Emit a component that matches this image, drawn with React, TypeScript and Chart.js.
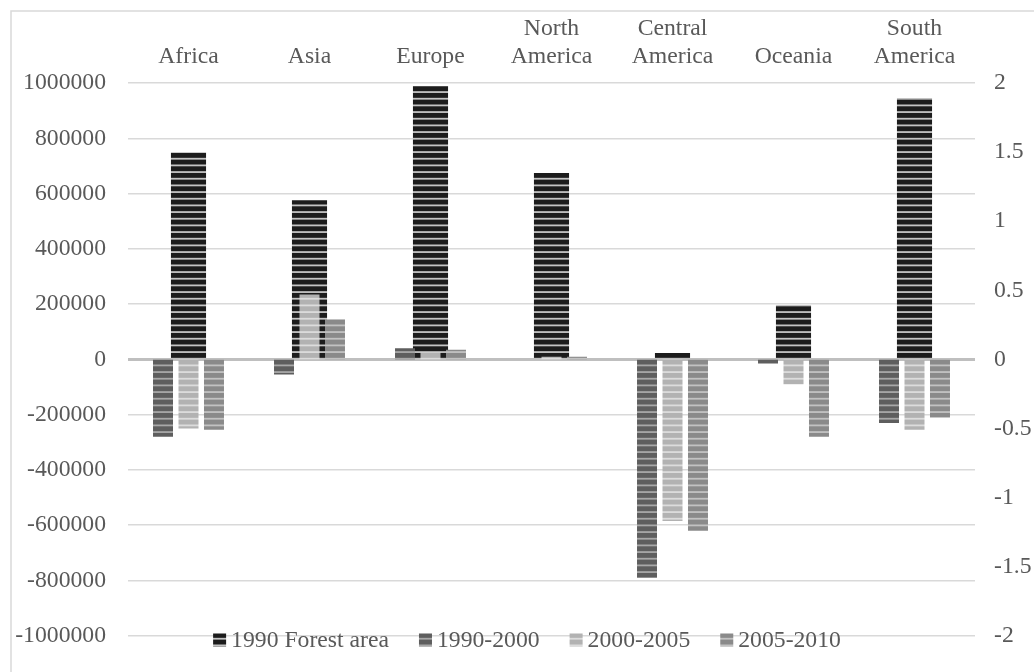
import React, { useEffect, useRef } from "react";
import { Chart, registerables } from "chart.js";

Chart.register(...registerables);

const categories: (string | string[])[] = [
  "Africa",
  "Asia",
  "Europe",
  ["North", "America"],
  ["Central", "America"],
  "Oceania",
  ["South", "America"],
];

const forestArea1990 = [749000, 576000, 989000, 674000, 23000, 197000, 946000];
const change1990to2000 = [-0.56, -0.11, 0.08, 0.0, -1.58, -0.03, -0.46];
const change2000to2005 = [-0.5, 0.47, 0.05, 0.02, -1.17, -0.18, -0.51];
const change2005to2010 = [-0.51, 0.29, 0.07, 0.02, -1.24, -0.56, -0.42];

const seriesNames = ["1990 Forest area", "1990-2000", "2000-2005", "2005-2010"];

const FONT = '"Liberation Serif", "Times New Roman", serif';
const FONT_SIZE = 23.7;
const TEXT_COLOR = "#595959";

function makeStripe(base: string, stripe: string): CanvasPattern | string {
  const c = document.createElement("canvas");
  c.width = 4;
  c.height = 20;
  const g = c.getContext("2d");
  if (!g) return base;
  g.fillStyle = base;
  g.fillRect(0, 0, 4, 20);
  g.fillStyle = stripe;
  for (let k = 0; k < 3; k++) {
    g.fillRect(0, k * (20 / 3) + 4.5, 4, 1.8);
  }
  const p = g.createPattern(c, "repeat");
  return p || base;
}

export default function App() {
  const ref = useRef<HTMLCanvasElement | null>(null);

  useEffect(() => {
    const canvas = ref.current;
    if (!canvas) return;

    const fills = [
      makeStripe("#1c1c1c", "#c4c4c4"),
      makeStripe("#5e5e5e", "#a8a8a8"),
      makeStripe("#b2b2b2", "#dcdcdc"),
      makeStripe("#8a8a8a", "#c2c2c2"),
    ];

    const framePlugin = {
      id: "frame",
      beforeDraw(chart: any) {
        const ctx = chart.ctx;
        ctx.save();
        ctx.fillStyle = "#ffffff";
        ctx.fillRect(0, 0, chart.width, chart.height);
        ctx.strokeStyle = "#d9d9d9";
        ctx.lineWidth = 1.5;
        ctx.strokeRect(11, 11, 3000, 3000);
        ctx.restore();
      },
    };

    const legendPlugin = {
      id: "overlayLegend",
      afterDraw(chart: any) {
        const ctx = chart.ctx;
        ctx.save();
        ctx.font = `${FONT_SIZE}px ${FONT}`;
        const box = 13;
        const gapBoxText = 5;
        const gapItems = 30;
        const widths = seriesNames.map((n) => ctx.measureText(n).width);
        const total =
          widths.reduce((a, w) => a + box + gapBoxText + w, 0) + gapItems * (seriesNames.length - 1);
        const centerX = 527;
        const centerY = 640;
        let x = centerX - total / 2;
        ctx.textBaseline = "middle";
        ctx.textAlign = "left";
        seriesNames.forEach((name, i) => {
          ctx.fillStyle = fills[i] as any;
          ctx.fillRect(x, centerY - box / 2, box, box);
          ctx.fillStyle = TEXT_COLOR;
          ctx.fillText(name, x + box + gapBoxText, centerY + 1);
          x += box + gapBoxText + widths[i] + gapItems;
        });
        ctx.restore();
      },
    };

    const secondary = (label: string, data: number[], fill: any) => ({
      label,
      data,
      backgroundColor: fill,
      xAxisID: "x",
      yAxisID: "y2",
      barPercentage: 0.784,
      categoryPercentage: 0.632,
      grouped: true,
    });

    const chart = new Chart(canvas, {
      type: "bar",
      data: {
        labels: categories as any,
        datasets: [
          secondary(seriesNames[1], change1990to2000, fills[1]),
          secondary(seriesNames[2], change2000to2005, fills[2]),
          secondary(seriesNames[3], change2005to2010, fills[3]),
          {
            label: seriesNames[0],
            data: forestArea1990,
            backgroundColor: fills[0] as any,
            xAxisID: "x",
            yAxisID: "y",
            barPercentage: 0.29,
            categoryPercentage: 1,
            grouped: false,
          },
        ] as any,
      },
      options: {
        animation: false,
        responsive: false,
        devicePixelRatio: 1,
        layout: { padding: { top: 0, left: 0, right: 0, bottom: 14 } },
        plugins: {
          legend: { display: false },
          tooltip: { enabled: false },
        },
        scales: {
          x: {
            type: "category",
            position: "top",
            offset: true,
            grid: { display: false, drawTicks: false },
            border: { display: false },
            ticks: {
              color: TEXT_COLOR,
              font: { family: FONT, size: FONT_SIZE },
              padding: 12,
              maxRotation: 0,
              autoSkip: false,
            },
            afterFit(scale: any) {
              scale.height = 83;
            },
          },
          y: {
            position: "left",
            min: -1000000,
            max: 1000000,
            grid: {
              drawTicks: false,
              color: (c: any) => (c.tick && c.tick.value === 0 ? "#bfbfbf" : "#d9d9d9"),
              lineWidth: (c: any) => (c.tick && c.tick.value === 0 ? 3 : 1.5),
            },
            border: { display: false },
            ticks: {
              stepSize: 200000,
              color: TEXT_COLOR,
              font: { family: FONT, size: FONT_SIZE },
              padding: 22,
              callback: (v: any) => String(v),
            },
            afterFit(scale: any) {
              scale.width = 128;
            },
          },
          y2: {
            position: "right",
            min: -2,
            max: 2,
            grid: { display: false, drawTicks: false },
            border: { display: false },
            ticks: {
              stepSize: 0.5,
              color: TEXT_COLOR,
              font: { family: FONT, size: FONT_SIZE },
              padding: 19,
              callback: (v: any) => String(v),
            },
            afterFit(scale: any) {
              scale.width = 59;
            },
          },
        },
      },
      plugins: [framePlugin, legendPlugin],
    });

    return () => chart.destroy();
  }, []);

  return (
    <div style={{ position: "fixed", left: 0, top: 0, width: 1034, height: 672, background: "#fff" }}>
      <canvas ref={ref} width={1034} height={672} style={{ display: "block", width: 1034, height: 672 }} />
    </div>
  );
}
